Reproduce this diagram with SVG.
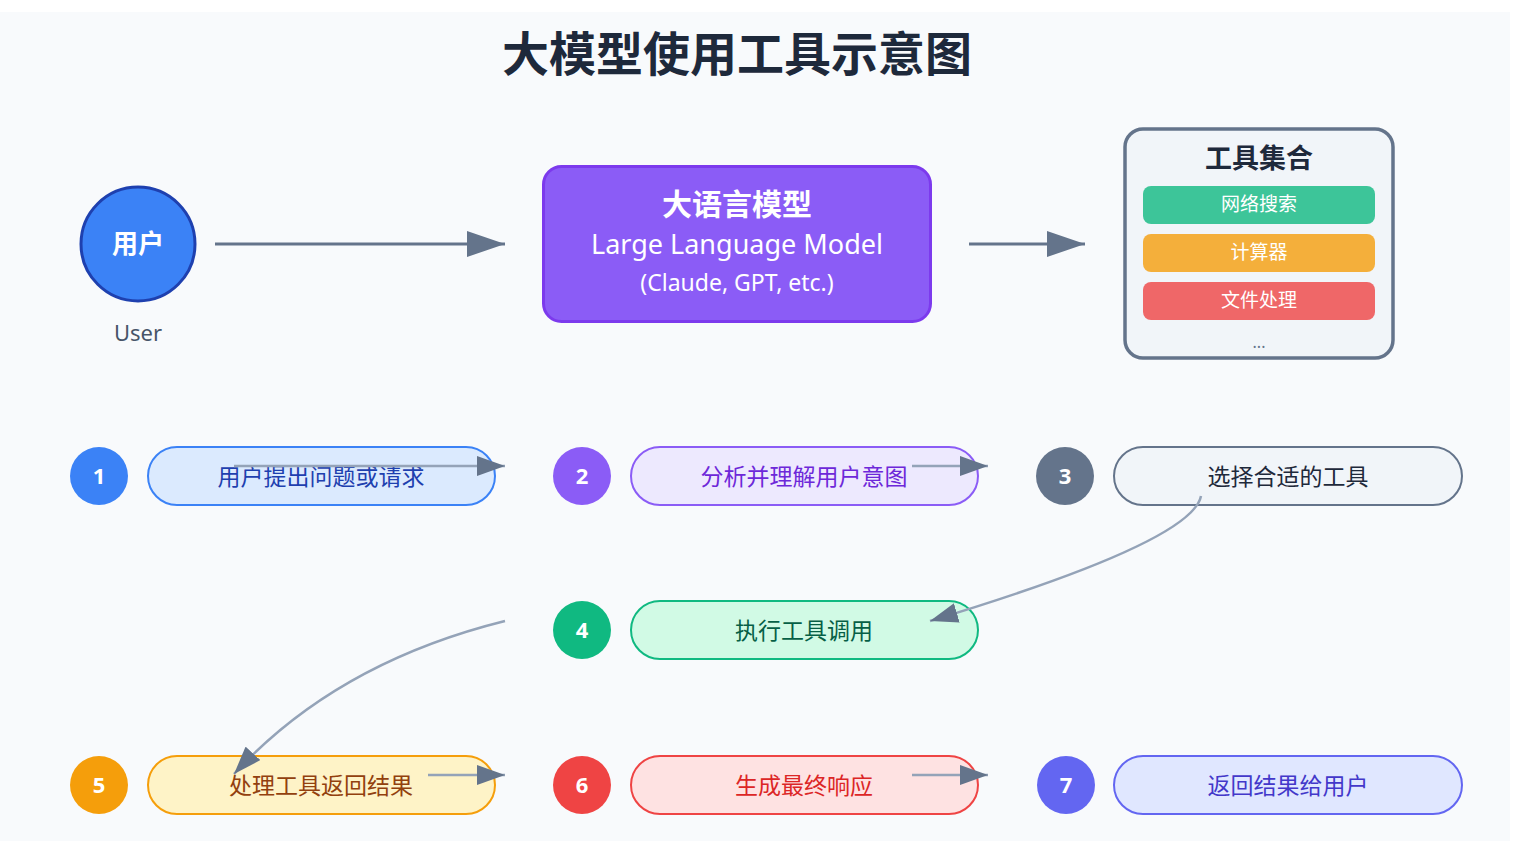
<svg xmlns="http://www.w3.org/2000/svg" width="1521" height="841" viewBox="0 0 1521 841">
  <style>
    .cjk { font-family: "Noto Sans CJK SC", "Noto Sans", sans-serif; }
    .lat { font-family: "Noto Sans", "Noto Sans CJK SC", sans-serif; }
    .num { font-family: "Noto Sans", "Noto Sans CJK SC", sans-serif; font-size: 22px; font-weight: bold; fill: #ffffff; text-anchor: middle; }
    .step { font-family: "Noto Sans CJK SC", "Noto Sans", sans-serif; font-size: 23px; text-anchor: middle; }
    .tool { font-family: "Noto Sans CJK SC", "Noto Sans", sans-serif; font-size: 19px; fill: #ffffff; text-anchor: middle; }
    .main { stroke: #64748b; stroke-width: 3; fill: none; }
    .flow { stroke: #94a3b8; stroke-width: 2.5; fill: none; }
    .pill { stroke-width: 2; }
  </style>
  <defs>
    <marker id="bigArrow" markerUnits="userSpaceOnUse" markerWidth="38" markerHeight="26" refX="38" refY="13" orient="auto">
      <path d="M0,0 L38,13 L0,26 Z" fill="#64748b"/>
    </marker>
    <marker id="smallArrow" markerUnits="userSpaceOnUse" markerWidth="28" markerHeight="20" refX="28" refY="10" orient="auto">
      <path d="M0,0 L28,10 L0,20 Z" fill="#64748b"/>
    </marker>
  </defs>

  <rect x="0" y="12" width="1510" height="829" fill="#f8fafc"/>

  <text x="737" y="71" class="cjk" font-size="47" font-weight="bold" fill="#1e293b" text-anchor="middle">大模型使用工具示意图</text>

  <g id="user">
    <circle cx="138" cy="244" r="57" fill="#3b82f6" stroke="#1e40af" stroke-width="3"/>
    <text x="138" y="253" class="cjk" font-size="26" font-weight="bold" fill="#ffffff" text-anchor="middle">用户</text>
    <text x="138" y="341" class="lat" font-size="22" fill="#475569" text-anchor="middle">User</text>
  </g>

  <g id="llm">
    <rect x="543.5" y="166.5" width="387" height="155" rx="18" fill="#8b5cf6" stroke="#7c3aed" stroke-width="3"/>
    <text x="737" y="215" class="cjk" font-size="30" font-weight="bold" fill="#ffffff" text-anchor="middle">大语言模型</text>
    <text x="737" y="254" class="lat" font-size="27" fill="#ffffff" text-anchor="middle">Large Language Model</text>
    <text x="737" y="291" class="lat" font-size="23" fill="#ffffff" text-anchor="middle">(Claude, GPT, etc.)</text>
  </g>

  <g id="tools">
    <rect x="1125" y="129" width="268" height="229" rx="18" fill="#f1f5f9" stroke="#64748b" stroke-width="3.5"/>
    <text x="1259" y="168" class="cjk" font-size="27" font-weight="bold" fill="#1e293b" text-anchor="middle">工具集合</text>
    <rect x="1143" y="186" width="232" height="38" rx="8" fill="#10b981" fill-opacity="0.8"/>
    <text x="1259" y="211" class="tool">网络搜索</text>
    <rect x="1143" y="234" width="232" height="38" rx="8" fill="#f59e0b" fill-opacity="0.8"/>
    <text x="1259" y="259" class="tool">计算器</text>
    <rect x="1143" y="282" width="232" height="38" rx="8" fill="#ef4444" fill-opacity="0.8"/>
    <text x="1259" y="307" class="tool">文件处理</text>
    <text x="1259" y="348" class="lat" font-size="16" fill="#64748b" text-anchor="middle">...</text>
  </g>

  <g id="step1">
    <circle cx="99" cy="476" r="29" fill="#3b82f6"/>
    <text x="99" y="484" class="num">1</text>
    <rect x="148" y="447" width="347" height="58" rx="29" class="pill" fill="#dbeafe" stroke="#3b82f6"/>
    <text x="321" y="485" class="step" fill="#1e40af">用户提出问题或请求</text>
  </g>
  <g id="step2">
    <circle cx="582" cy="476" r="29" fill="#8b5cf6"/>
    <text x="582" y="484" class="num">2</text>
    <rect x="631" y="447" width="347" height="58" rx="29" class="pill" fill="#ede9fe" stroke="#8b5cf6"/>
    <text x="804" y="485" class="step" fill="#6d28d9">分析并理解用户意图</text>
  </g>
  <g id="step3">
    <circle cx="1065" cy="476" r="29" fill="#64748b"/>
    <text x="1065" y="484" class="num">3</text>
    <rect x="1114" y="447" width="348" height="58" rx="29" class="pill" fill="#f1f5f9" stroke="#64748b"/>
    <text x="1288" y="485" class="step" fill="#1e293b">选择合适的工具</text>
  </g>
  <g id="step4">
    <circle cx="582" cy="630" r="29" fill="#10b981"/>
    <text x="582" y="638" class="num">4</text>
    <rect x="631" y="601" width="347" height="58" rx="29" class="pill" fill="#d1fae5" stroke="#10b981"/>
    <text x="804" y="639" class="step" fill="#065f46">执行工具调用</text>
  </g>
  <g id="step5">
    <circle cx="99" cy="785" r="29" fill="#f59e0b"/>
    <text x="99" y="793" class="num">5</text>
    <rect x="148" y="756" width="347" height="58" rx="29" class="pill" fill="#fef3c7" stroke="#f59e0b"/>
    <text x="321" y="794" class="step" fill="#92400e">处理工具返回结果</text>
  </g>
  <g id="step6">
    <circle cx="582" cy="785" r="29" fill="#ef4444"/>
    <text x="582" y="793" class="num">6</text>
    <rect x="631" y="756" width="347" height="58" rx="29" class="pill" fill="#fee2e2" stroke="#ef4444"/>
    <text x="804" y="794" class="step" fill="#dc2626">生成最终响应</text>
  </g>
  <g id="step7">
    <circle cx="1066" cy="785" r="29" fill="#6366f1"/>
    <text x="1066" y="793" class="num">7</text>
    <rect x="1114" y="756" width="348" height="58" rx="29" class="pill" fill="#e0e7ff" stroke="#6366f1"/>
    <text x="1288" y="794" class="step" fill="#4338ca">返回结果给用户</text>
  </g>

  <g id="connectors">
    <line x1="215" y1="244" x2="505" y2="244" class="main" marker-end="url(#bigArrow)"/>
    <line x1="969" y1="244" x2="1085" y2="244" class="main" marker-end="url(#bigArrow)"/>
    <line x1="234" y1="466" x2="505" y2="466" class="flow" marker-end="url(#smallArrow)"/>
    <line x1="912" y1="466" x2="988" y2="466" class="flow" marker-end="url(#smallArrow)"/>
    <path d="M1201,496 Q1192,542 930,621" class="flow" marker-end="url(#smallArrow)"/>
    <path d="M505,621 Q336,663 234,774" class="flow" marker-end="url(#smallArrow)"/>
    <line x1="428" y1="775" x2="505" y2="775" class="flow" marker-end="url(#smallArrow)"/>
    <line x1="912" y1="775" x2="988" y2="775" class="flow" marker-end="url(#smallArrow)"/>
  </g>
</svg>
